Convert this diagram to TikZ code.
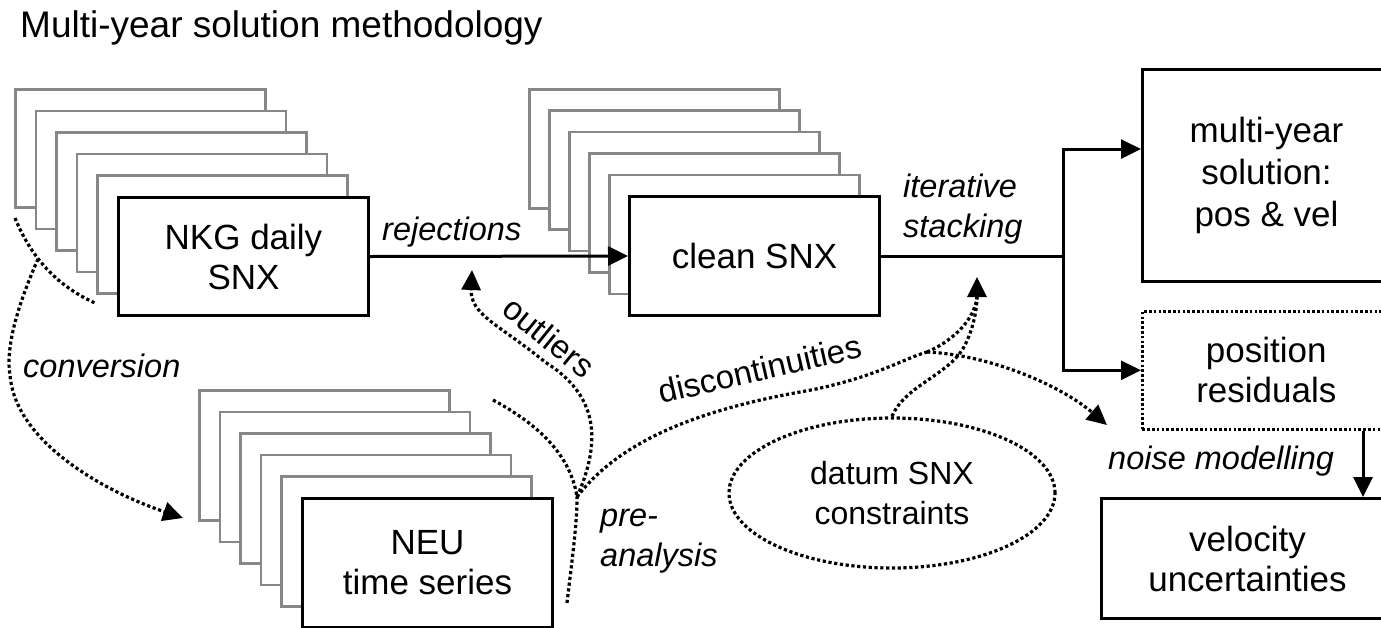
\documentclass[tikz,border=0pt]{standalone}
\usepackage{fontspec}
\setmainfont{Liberation Sans}
\usetikzlibrary{arrows.meta,shapes.geometric,calc}

\definecolor{sheetgray}{RGB}{135,135,135}

\tikzset{
  sheet/.style={draw=sheetgray, line width=2.6pt, fill=white, anchor=north west, inner sep=0pt},
  box/.style={draw=black, line width=3pt, fill=white, anchor=north west, inner sep=0pt,
    align=center, font=\fontsize{35}{40}\selectfont},
  dotbox/.style={box, dash pattern=on 2.6pt off 2.2pt, line width=2.6pt},
  flow/.style={line width=3pt, -{Triangle[length=20pt,width=19pt]}},
  dots/.style={line width=3.2pt, dash pattern=on 3.2pt off 2.6pt},
  dotarrow/.style={dots, -{Triangle[length=20pt,width=19pt]}},
  lbl/.style={font=\fontsize{32.5}{40}\selectfont\itshape, inner sep=0pt},
  tag/.style={font=\fontsize{33}{40}\selectfont, inner sep=0pt},
}

\begin{document}
\begin{tikzpicture}[x=1pt,y=-1pt]
\useasboundingbox (0,0) rectangle (1381,627);
\clip (0,0) rectangle (1381,627);

% heading
\node[anchor=base west, inner sep=0pt, font=\fontsize{37}{40}\selectfont] (title) at (20,37)
  {Multi-year solution methodology};

% stack of daily SINEX files
\foreach \i in {0,...,4}
  \node[sheet, minimum width=250pt, minimum height=118pt] (nkgsheet\i) at ({14+20.6*\i},{88+21.6*\i}) {};
\node[box, minimum width=250pt, minimum height=118pt] (nkg) at (117,196) {NKG daily\\SNX};

% stack of cleaned SINEX files
\foreach \i in {0,...,4}
  \node[sheet, minimum width=250pt, minimum height=119pt] (cleansheet\i) at ({528+20*\i},{88+21.4*\i}) {};
\node[box, minimum width=250pt, minimum height=119pt] (clean) at (628,195) {clean SNX};

% stack of time series
\foreach \i in {0,...,4}
  \node[sheet, minimum width=250pt, minimum height=130pt] (neusheet\i) at ({198+20.6*\i},{389+21.6*\i}) {};
\node[box, minimum width=250pt, minimum height=129pt] (neu) at (301,497) {NEU\\time series};

% products
\node[box, minimum width=248pt, minimum height=212pt, font=\fontsize{35}{42}\selectfont] (multi) at (1141,68)
  {multi-year\\solution:\\pos \& vel};
\node[dotbox, minimum width=248pt, minimum height=118pt] (resid) at (1141,310) {position\\residuals};
\node[box, minimum width=292pt, minimum height=120pt] (vel) at (1100,497) {velocity\\uncertainties};

% datum constraints
\node[ellipse, draw, dots, minimum width=326pt, minimum height=150pt, inner sep=0pt, align=center,
  font=\fontsize{32}{40}\selectfont] (datum) at (892,493) {datum SNX\\constraints};

% main processing chain
\draw[flow] (nkg.east) -- (clean.west);
\coordinate (splitx) at (1063,0);
\coordinate (split) at (clean.east -| splitx);
\draw[line width=3pt] (clean.east) -- (split);
\draw[flow] (split) |- ($(multi.north west)!0.377!(multi.south west)$);
\draw[flow] (split) |- (resid.west);
\coordinate (noisex) at (1363,0);
\draw[flow] (resid.south -| noisex) -- (vel.north -| noisex);

% conversion to time series
\coordinate (arcA) at (15,218);
\coordinate (arcB) at (95,303);
\draw[dots] (arcA) .. controls (30,255) and (55,285) .. (arcB);
\coordinate (convS) at (38,259);
\coordinate (convT) at (183,518);
\draw[dotarrow] (convS) .. controls (20,300) and (5,345) .. (10,375)
  .. controls (15,440) and (100,490) .. (convT);

% pre-analysis tree
\coordinate (J) at (577,497);
\coordinate (stemEnd) at (567,603);
\coordinate (leftEnd) at (493,400);
\coordinate (outTip) at (472,270);
\coordinate (peak) at (927,352);
\coordinate (resTip) at (1107,425);
\coordinate (itBase) at (977,297);
\coordinate (itTip) at (977,277);
\draw[dots] (stemEnd) .. controls (572,560) and (577,525) .. (J);
\draw[dots] (leftEnd) .. controls (530,420) and (570,450) .. (J);
\draw[dotarrow] (J) .. controls (602,440) and (598,395) .. (545,362)
  .. controls (500,325) and (470,315) .. (outTip);
\draw[dots] (J) .. controls (620,440) and (700,410) .. (800,392)
  .. controls (870,380) and (905,358) .. (peak);
\draw[dotarrow] (peak) .. controls (990,355) and (1060,385) .. (resTip);
\draw[dots] (peak) .. controls (955,340) and (975,318) .. (itBase);
\draw[dotarrow] (datum.north) .. controls (905,385) and (950,375) .. (965,345)
  .. controls (975,325) and (977,305) .. (itTip);

% labels
\node[lbl, anchor=base west] (rejlbl) at (382,240) {rejections};
\node[lbl, anchor=north west, align=left] (itlbl) at (903,173.7) {\vphantom{A}iterative\\stacking};
\node[lbl, anchor=base west] (convlbl) at (23,377) {conversion};
\node[lbl, anchor=north west, align=left] (prelbl) at (600,503.7) {\vphantom{A}pre-\\analysis};
\node[lbl, anchor=base west] (noiselbl) at (1108,469) {noise modelling};
\node[tag, rotate=-39] (outlbl) at (549,337) {outliers};
\node[tag, rotate=13] (disclbl) at (760,369) {discontinuities};

\end{tikzpicture}
\end{document}
